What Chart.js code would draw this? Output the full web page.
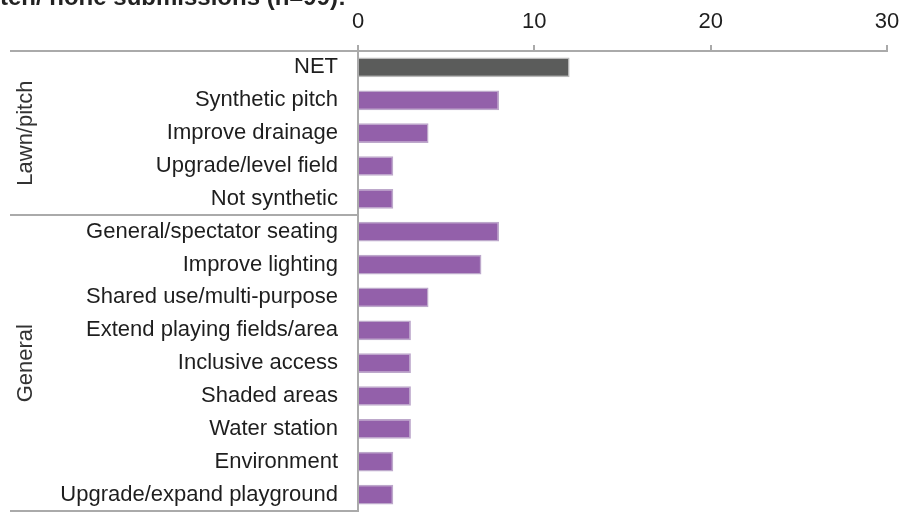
<!DOCTYPE html>
<html>
<head>
<meta charset="utf-8">
<script src="https://cdn.jsdelivr.net/npm/chart.js@4.4.0/dist/chart.umd.min.js"></script>
<style>
  html, body { margin: 0; padding: 0; background: #fff; }
  #wrap { width: 904px; height: 512px; }
</style>
</head>
<body>
<div id="wrap"><canvas id="myChart" width="904" height="512"></canvas></div>
<script>
// categories, top to bottom
const categories = [
  'NET', 'Synthetic pitch', 'Improve drainage', 'Upgrade/level field', 'Not synthetic',
  'General/spectator seating', 'Improve lighting', 'Shared use/multi-purpose',
  'Extend playing fields/area', 'Inclusive access', 'Shaded areas', 'Water station',
  'Environment', 'Upgrade/expand playground'
];
const counts = [12, 8, 4, 2, 2, 8, 7, 4, 3, 3, 3, 3, 2, 2];
const groups = ['Lawn/pitch', 'General'];
const groupStart = [0, 5]; // first row index of each group
const xTicks = [0, 10, 20, 30];
const titleText = 'Excluding written/ none submissions (n=99):';

const PURPLE = '#9360aa';
const NETGREY = '#5b5c5b';
const LINE = '#aaaaaa';
const FONT = "'Liberation Sans', Arial, sans-serif";

// group labels + separator lines left of the axis
const groupPlugin = {
  id: 'groups',
  afterDraw(chart) {
    const ctx = chart.ctx;
    const y = chart.scales.y;
    const area = chart.chartArea;
    const bounds = [];
    for (let g = 0; g < groups.length; g++) {
      const first = groupStart[g];
      const last = g + 1 < groups.length ? groupStart[g + 1] - 1 : categories.length - 1;
      const top = first === 0 ? area.top : (y.getPixelForValue(first - 1) + y.getPixelForValue(first)) / 2;
      const bot = last === categories.length - 1 ? area.bottom : (y.getPixelForValue(last) + y.getPixelForValue(last + 1)) / 2;
      bounds.push([top, bot]);
    }
    ctx.save();
    ctx.strokeStyle = LINE;
    ctx.lineWidth = 2;
    const lines = [bounds[0][0]];
    bounds.forEach(b => lines.push(b[1]));
    lines.forEach(ly => {
      ctx.beginPath();
      ctx.moveTo(10, Math.round(ly));
      ctx.lineTo(area.left, Math.round(ly));
      ctx.stroke();
    });
    ctx.fillStyle = '#333';
    ctx.font = '22px ' + FONT;
    ctx.textAlign = 'center';
    ctx.textBaseline = 'middle';
    groups.forEach((name, i) => {
      ctx.save();
      ctx.translate(26, (bounds[i][0] + bounds[i][1]) / 2);
      ctx.rotate(-Math.PI / 2);
      ctx.fillText(name, 0, 0);
      ctx.restore();
    });
    // title, cropped by the top edge like the source
    ctx.fillStyle = '#222';
    ctx.font = 'bold 24px ' + FONT;
    ctx.textAlign = 'right';
    ctx.textBaseline = 'alphabetic';
    ctx.fillText(titleText, 346, 5);
    ctx.restore();
  }
};

const ctx = document.getElementById('myChart').getContext('2d');
new Chart(ctx, {
  type: 'bar',
  data: {
    labels: categories,
    datasets: [{
      data: counts,
      backgroundColor: categories.map((c, i) => i === 0 ? NETGREY : PURPLE),
      borderColor: categories.map((c, i) => i === 0 ? '#b9b9b9' : '#bda8cb'),
      borderWidth: 1.5,
      borderSkipped: 'start',
      barPercentage: 0.6,
      categoryPercentage: 1
    }]
  },
  plugins: [groupPlugin],
  options: {
    indexAxis: 'y',
    responsive: false,
    animation: false,
    layout: { padding: { left: 0, right: 17, top: 0, bottom: 1 } },
    plugins: { legend: { display: false }, tooltip: { enabled: false } },
    scales: {
      x: {
        position: 'top',
        min: 0,
        max: 30,
        afterBuildTicks: s => { s.ticks = xTicks.map(v => ({ value: v })); },
        afterFit: s => { s.height = 51; s.paddingLeft = 0; s.paddingRight = 0; },
        ticks: { color: '#1e1e1e', font: { family: FONT, size: 22 }, padding: 10, maxRotation: 0 },
        grid: { drawOnChartArea: false, drawTicks: true, tickLength: 6, color: LINE, lineWidth: 2 },
        border: { color: LINE, width: 2 }
      },
      y: {
        afterFit: s => { s.width = 358; s.paddingTop = 0; s.paddingBottom = 0; },
        ticks: { color: '#1e1e1e', font: { family: FONT, size: 22 }, padding: 20, autoSkip: false },
        grid: { display: false, drawTicks: false },
        border: { color: LINE, width: 2 }
      }
    }
  }
});
</script>
</body>
</html>
